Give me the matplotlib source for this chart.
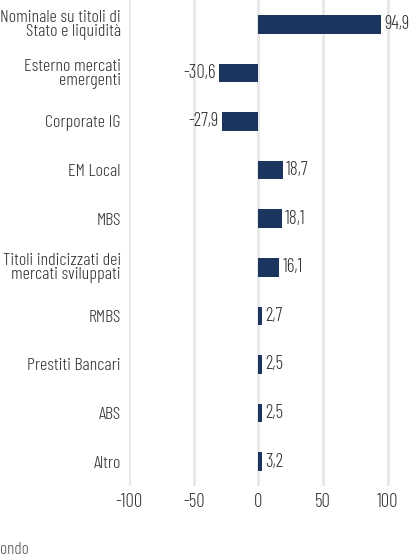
import matplotlib.pyplot as plt

categories = ['Nominale su titoli di\nStato e liquidità', 'Esterno mercati\nemergenti', 'Corporate IG',
              'EM Local', 'MBS', 'Titoli indicizzati dei\nmercati sviluppati', 'RMBS',
              'Prestiti Bancari', 'ABS', 'Altro']
values = [94.9, -30.6, -27.9, 18.7, 18.1, 16.1, 2.7, 2.5, 2.5, 3.2]
xticks = [-100, -50, 0, 50, 100]

plt.rcParams['font.family'] = ['Barlow Condensed', 'Roboto Condensed', 'DejaVu Sans']
plt.rcParams['font.weight'] = 300
txtcol = '#333333'
fs = 13
fs_num = 13.5

fig = plt.figure(figsize=(4.11, 5.6), dpi=100)
ax = fig.add_axes([129 / 411, 1 - 486 / 560, 1 - 129 / 411, 486 / 560])

y = list(range(len(categories)))
ax.barh(y, values, height=0.38, color='#1c355e', zorder=3)
for yi, v in zip(y, values):
    lab = f'{v:.1f}'.replace('.', ',')
    if v >= 0:
        ax.text(v + 2.5, yi, lab, va='center', ha='left', fontsize=fs_num, color=txtcol, clip_on=False)
    else:
        ax.text(v - 2.5, yi, lab, va='center', ha='right', fontsize=fs_num, color=txtcol)

ax.set_xlim(-100, 118)
ax.set_ylim(9.5, -0.5)
ax.set_xticks(xticks)
ax.set_xticklabels([str(t) for t in xticks], fontsize=fs_num)
ax.set_yticks(y)
ax.set_yticklabels(categories, linespacing=0.85, fontsize=fs)
ax.tick_params(length=0, labelcolor=txtcol)
ax.tick_params(axis='y', pad=6)
ax.tick_params(axis='x', pad=5)
ax.grid(axis='x', color='#e8e8e8', linewidth=2, zorder=0)
for s in ax.spines.values():
    s.set_visible(False)

# testo tagliato in basso a sinistra, come nell'originale
fig.text(0, 1 - 550 / 560, 'ondo', fontsize=12.5, color='#555555', va='center', ha='left')

fig.savefig('out.png', dpi=100)
